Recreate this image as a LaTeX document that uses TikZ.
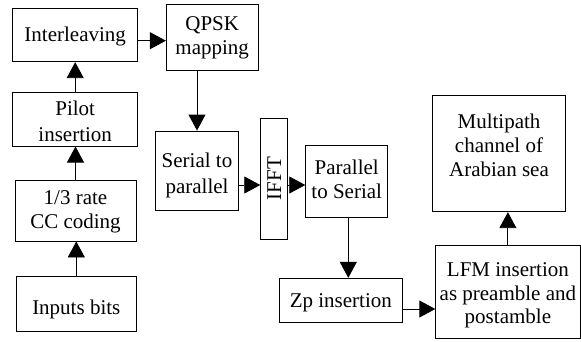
\documentclass[tikz,border=0pt]{standalone}
\usepackage{fontspec}
\usepackage{graphicx}
\setmainfont{Liberation Serif}
\usetikzlibrary{arrows.meta}

% centred block of lines, aligned on the baseline of its first line
\newcommand\blines[1]{\begin{tabular}[t]{@{}c@{}}#1\end{tabular}}

\tikzset{
  blk/.style={draw, line width=0.9pt, inner sep=0pt,
    font=\fontsize{21}{24}\selectfont},
  lsp/.style={font=\fontsize{21}{#1}\selectfont},
  arr/.style={line width=0.9pt, -{Triangle[length=16pt, width=17pt]}}
}

\begin{document}
\begin{tikzpicture}[x=1pt, y=-1pt]
\useasboundingbox (0,0) rectangle (581,341);

% transmitter chain, left column
\node[blk, minimum width=125pt, minimum height=53.4pt, text height=13.4pt, text depth=0pt]
  (interl) at (75.2,35) {\blines{Interleaving}};
\node[blk, lsp=26, minimum width=125pt, minimum height=53.7pt, text height=0pt, text depth=7.8pt]
  (pilot) at (75.2,119.2) {\blines{Pilot\\insertion}};
\node[blk, minimum width=121pt, minimum height=61pt, text height=0pt, text depth=13pt]
  (cc) at (75.5,210.5) {\blines{1/3 rate\\CC coding}};
\node[blk, minimum width=119.3pt, minimum height=55pt, text height=19.6pt, text depth=0pt]
  (inputs) at (76.3,304.2) {\blines{Inputs bits}};

% modulation and OFDM blocks
\node[blk, minimum width=91.7pt, minimum height=66.8pt, text height=0pt, text depth=13.4pt]
  (qpsk) at (212.2,37.4) {\blines{QPSK\\mapping}};
\node[blk, lsp=26, minimum width=82.6pt, minimum height=79pt, text height=0pt, text depth=6.4pt]
  (serial) at (197,170.5) {\blines{Serial to\\parallel}};
\node[blk, minimum width=27pt, minimum height=120.7pt]
  (ifft) at (274.2,178.7) {\rotatebox{90}{IFFT}};
\node[blk, minimum width=82pt, minimum height=71.6pt, text height=0pt, text depth=15pt]
  (par) at (346.7,181.5) {\blines{Parallel\\to Serial}};
\node[blk, minimum width=123pt, minimum height=44.4pt, text height=13pt, text depth=0pt]
  (zp) at (340.8,300.5) {\blines{Zp insertion}};

% preamble insertion and channel
\node[blk, lsp=23.5, minimum width=144.3pt, minimum height=92.6pt, text height=0pt, text depth=30.6pt]
  (lfm) at (507.9,292) {\blines{LFM insertion\\as preamble and\\postamble}};
\node[blk, lsp=24.2, minimum width=133.4pt, minimum height=116pt, text height=0pt, text depth=50.8pt]
  (multi) at (499,153.7) {\blines{Multipath\\channel of\\Arabian sea}};

% connector anchor points
\coordinate (c1) at ([yshift=-5.7pt]interl.east);
\coordinate (c2) at ([yshift=-14.5pt]serial.east);
\coordinate (c3) at ([yshift=-8.5pt]zp.east);
\coordinate (c4) at ([xshift=1.6pt]par.south);

% connectors
\draw[arr] (inputs.north) -- (inputs.north |- cc.south);
\draw[arr] (cc.north) -- (cc.north |- pilot.south);
\draw[arr] (pilot.north) -- (pilot.north |- interl.south);
\draw[arr] (c1) -- (c1 -| qpsk.west);
\draw[arr] (serial.north |- qpsk.south) -- (serial.north);
\draw[arr] (c2) -- (c2 -| ifft.west);
\draw[arr] (c2 -| ifft.east) -- (c2 -| par.west);
\draw[arr] (c4) -- (c4 |- zp.north);
\draw[arr] (c3) -- (c3 -| lfm.west);
\draw[arr] (lfm.north) -- (lfm.north |- multi.south);
\end{tikzpicture}
\end{document}
